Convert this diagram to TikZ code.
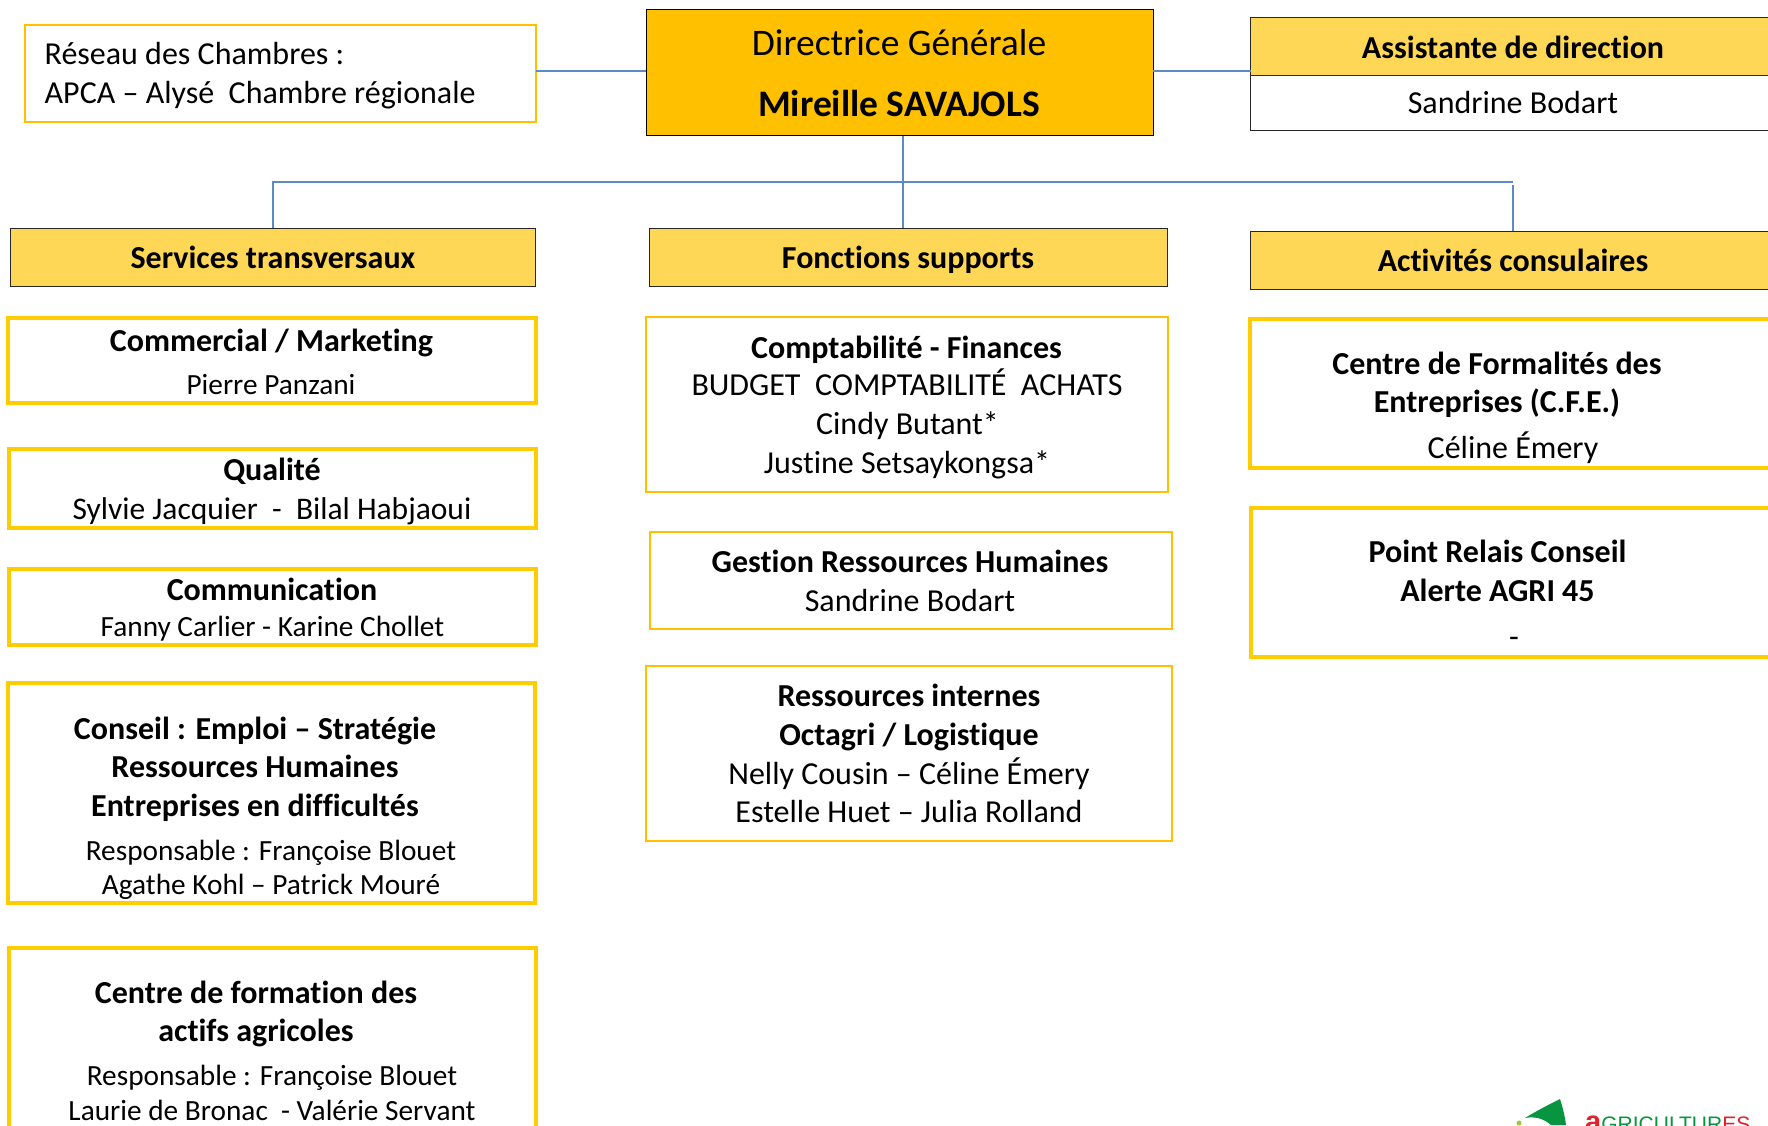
\documentclass[tikz,border=0pt]{standalone}
\usepackage{fontspec}
\setmainfont[Ligatures=CommonOff]{Carlito}
\newfontfamily\logofont{Liberation Sans}
\definecolor{gold}{HTML}{FFC000}
\definecolor{headgold}{HTML}{FFD756}
\definecolor{frame}{HTML}{FFCC00}
\definecolor{linkblue}{HTML}{5B8BC5}
\definecolor{logogreen}{HTML}{07953F}
\definecolor{logolight}{HTML}{9CC83C}
\definecolor{logored}{HTML}{E3202A}
\tikzset{
  headbox/.style={draw=black!85,fill=headgold,line width=1pt,inner sep=0pt,outer sep=0pt},
  thinbox/.style={draw=gold,fill=white,line width=2pt,inner sep=0pt,outer sep=0pt},
  thickbox/.style={draw=frame,fill=white,line width=3.6pt,inner sep=0pt,outer sep=0pt},
  link/.style={draw=linkblue,line width=2pt},
  title/.style={anchor=base,inner sep=0pt,yshift=-1pt,font=\fontsize{32}{34}\selectfont\bfseries},
  person/.style={anchor=base,inner sep=0pt,yshift=-1pt,font=\fontsize{32}{34}\selectfont},
  small person/.style={person,font=\fontsize{29.3}{32}\selectfont},
}
\begin{document}
\begin{tikzpicture}[x=1pt,y=-1pt]
\useasboundingbox (0,0) rectangle (1768,1125);
\clip (0,0) rectangle (1768,1125);
% top row
\node[thinbox,minimum width=511pt,minimum height=97pt] (reseau) at (280.5,73) {};
\node[draw=black,fill=gold,line width=1pt,inner sep=0pt,outer sep=0pt,minimum width=507pt,minimum height=126pt] (dir) at (899.5,72.5) {};
\node[draw=black!85,fill=white,line width=1pt,inner sep=0pt,outer sep=0pt,minimum width=530pt,minimum height=112pt] (assistbody) at (1515.5,74) {};
\node[headbox,minimum width=530pt,minimum height=58pt] (assist) at (1515.5,46.5) {};
% headers
\node[headbox,minimum width=525pt,minimum height=58pt] (services) at (272.5,257) {};
\node[headbox,minimum width=518pt,minimum height=58pt] (fonctions) at (908.5,257) {};
\node[headbox,minimum width=526pt,minimum height=58pt] (activites) at (1513,260) {};
% connectors
\coordinate (tier) at (899,71.3);
\coordinate (bus) at (903,181.7);
\draw[link] (tier -| reseau.east) -- (tier -| dir.west);
\draw[link] (tier -| dir.east) -- (tier -| assist.west);
\draw[link] (bus |- dir.south) -- (bus |- fonctions.north);
\draw[link] (services.north) |- (bus) -- (bus -| activites.north);
\draw[link] (activites.north) -- ++(0,-46);
% left column
\node[thickbox,minimum width=528pt,minimum height=85pt] (commercial) at (272,360.5) {};
\node[thickbox,minimum width=527pt,minimum height=79pt] (qualite) at (272.5,488.5) {};
\node[thickbox,minimum width=527pt,minimum height=76pt] (comm) at (272.5,607) {};
\node[thickbox,minimum width=527pt,minimum height=220pt] (conseil) at (271.5,793) {};
\node[thickbox,minimum width=527pt,minimum height=240pt] (formation) at (272.5,1068) {};
% middle column
\node[thinbox,minimum width=522pt,minimum height=175pt] (compta) at (907,404.5) {};
\node[thinbox,minimum width=522pt,minimum height=97pt] (gestion) at (911,580.5) {};
\node[thinbox,minimum width=526pt,minimum height=175pt] (internes) at (909,753.5) {};
% right column
\node[thickbox,minimum width=530pt,minimum height=149pt] (cfe) at (1515,393.5) {};
\node[thickbox,minimum width=530pt,minimum height=149pt] (relais) at (1516,582.5) {};
% texts
\node[person,anchor=base west] (reseau1) at (44.5,63) {Réseau des Chambres :};
\node[person,anchor=base west] (reseau2) at (44.5,102) {APCA – Alysé~~Chambre régionale};
\node[person,font=\fontsize{37.5}{40}\selectfont] (dir1) at (899,54) {Directrice Générale};
\node[title,font=\fontsize{37.5}{40}\selectfont\bfseries] (dir2) at (899,115) {Mireille SAVAJOLS};
\node[title] (assist1) at (1513,57) {Assistante de direction};
\node[person] (assist2) at (1513,112) {Sandrine Bodart};
\node[title] (services1) at (273,267) {Services transversaux};
\node[title] (fonctions1) at (908,267) {Fonctions supports};
\node[title] (activites1) at (1513,270.7) {Activités consulaires};
\node[title] (commercial1) at (271.5,350) {Commercial / Marketing};
\node[small person] (commercial2) at (271,393) {Pierre Panzani};
\node[title] (qualite1) at (272,479.5) {Qualité};
\node[person,font=\fontsize{31.5}{34}\selectfont] (qualite2) at (272,518) {Sylvie Jacquier~~-~~Bilal Habjaoui};
\node[title] (comm1) at (272,599.5) {Communication};
\node[small person] (comm2) at (272.5,635.5) {Fanny Carlier - Karine Chollet};
\node[title] (conseil1) at (255,738.5) {Conseil : Emploi – Stratégie};
\node[title] (conseil2) at (255,776) {Ressources Humaines};
\node[title] (conseil3) at (255,815) {Entreprises en difficultés};
\node[small person] (conseil4) at (271,859) {Responsable : Françoise Blouet};
\node[small person] (conseil5) at (271,893) {Agathe Kohl – Patrick Mouré};
\node[title] (formation1) at (256,1002) {Centre de formation des};
\node[title] (formation2) at (256,1040) {actifs agricoles};
\node[small person] (formation3) at (272,1084) {Responsable : Françoise Blouet};
\node[small person] (formation4) at (272,1119) {Laurie de Bronac~~- Valérie Servant};
\node[title] (compta1) at (906.5,357.5) {Comptabilité - Finances};
\node[person] (compta2) at (907,394.5) {BUDGET~~COMPTABILITÉ~~ACHATS};
\node[person] (compta3) at (907.5,433.5) {Cindy Butant*};
\node[person] (compta4) at (907,472) {Justine Setsaykongsa*};
\node[title] (gestion1) at (910,571.5) {Gestion Ressources Humaines};
\node[person] (gestion2) at (910,610.5) {Sandrine Bodart};
\node[title] (internes1) at (909,705.5) {Ressources internes};
\node[title] (internes2) at (909,744) {Octagri / Logistique};
\node[person] (internes3) at (909,783) {Nelly Cousin – Céline Émery};
\node[person] (internes4) at (909,821) {Estelle Huet – Julia Rolland};
\node[title] (cfe1) at (1497,373) {Centre de Formalités des};
\node[title] (cfe2) at (1497,411) {Entreprises (C.F.E.)};
\node[person] (cfe3) at (1513,457) {Céline Émery};
\node[title] (relais1) at (1497.5,561.5) {Point Relais Conseil};
\node[title] (relais2) at (1497.5,600.5) {Alerte AGRI 45};
\node[person] (relais3) at (1514,646) {-};
% logo
\fill[logogreen] (1525,1118) .. controls (1538,1110) and (1550,1104) .. (1560,1099) .. controls (1563,1108) and (1565,1117) .. (1566,1125) -- (1551,1125) .. controls (1544,1119) and (1536,1116) .. (1525,1118) -- cycle;
\fill[logolight] (1519,1123) circle (2.5);
\node[anchor=base west,inner sep=0pt,font=\logofont\fontsize{21}{24}\selectfont,text=logogreen] (logotext) at (1585,1131) {\textcolor{logored}{\fontsize{29}{30}\selectfont\bfseries a}GRICULTUR\textcolor{logored}{ES}};
\end{tikzpicture}
\end{document}
